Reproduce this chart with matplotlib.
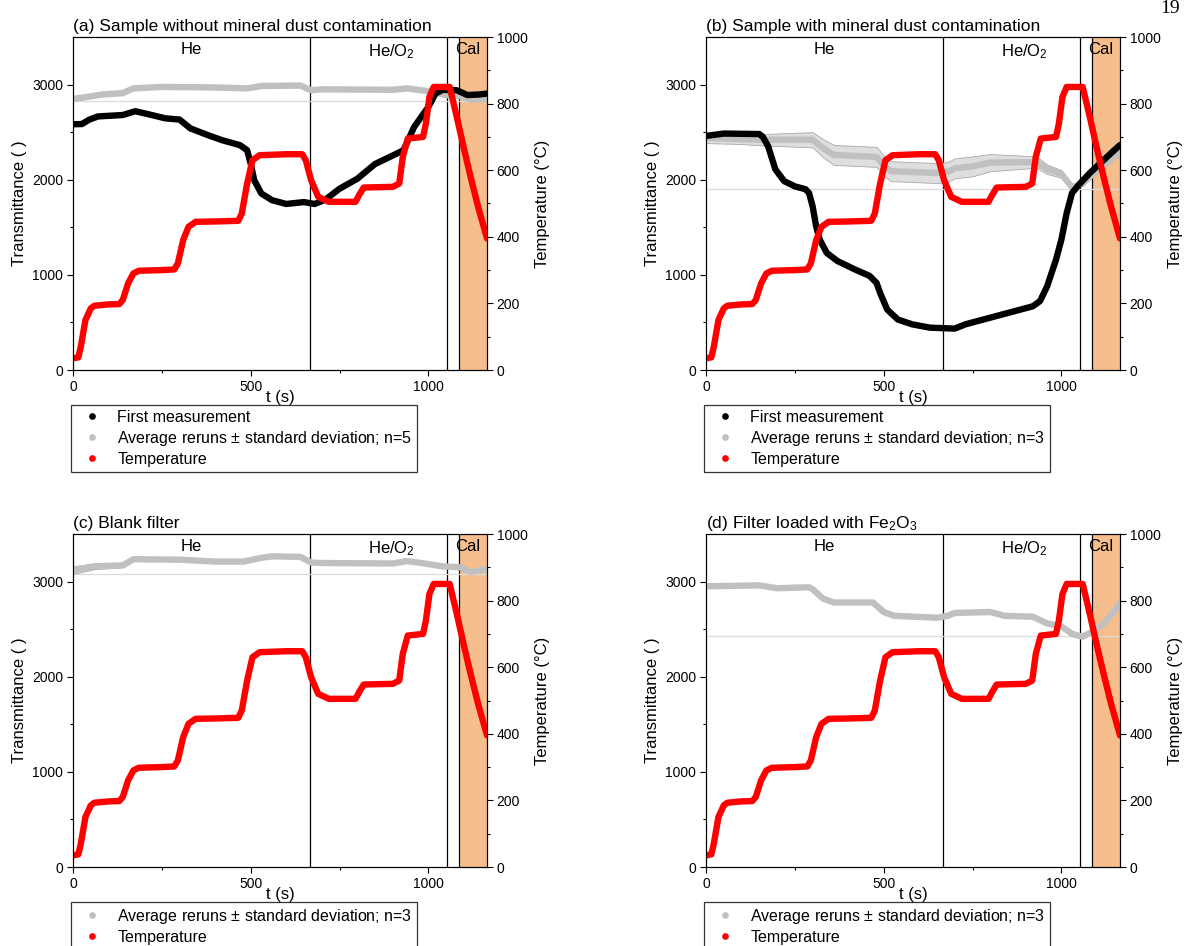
import matplotlib
matplotlib.use("Agg")
import matplotlib.pyplot as plt
from matplotlib.lines import Line2D
from matplotlib.transforms import blended_transform_factory
import numpy as np

plt.rcParams['font.family'] = ['Liberation Sans', 'DejaVu Sans']
plt.rcParams['mathtext.fontset'] = 'custom'
plt.rcParams['mathtext.rm'] = 'Liberation Sans'
plt.rcParams['mathtext.it'] = 'Liberation Sans:italic'

# temperature programme (same for all runs), t in s, T in degC
temp_t = [0, 15, 22, 35, 50, 60, 100, 130, 140, 155, 170, 185, 250, 285, 295, 310, 325, 345, 400, 465,
          475, 490, 505, 525, 600, 645, 655, 670, 690, 720, 795, 805, 818, 900, 918, 928, 942, 985, 993, 1003,
          1015, 1060, 1080, 1100, 1120, 1140, 1165]
temp_c = [35, 38, 70, 150, 185, 193, 197, 198, 210, 260, 290, 298, 300, 302, 320, 390, 430, 445, 446, 448,
          470, 560, 630, 645, 648, 648, 630, 570, 520, 505, 505, 525, 548, 550, 560, 640, 695, 700, 740, 820,
          850, 850, 760, 665, 575, 490, 395]

# (a) sample without mineral dust
a_first_t = [0, 25, 45, 70, 140, 175, 210, 260, 300, 330, 380, 420, 470, 490, 500, 510, 530, 560, 600, 650,
             680, 710, 750, 800, 850, 900, 930, 960, 1000, 1020, 1040, 1080, 1110, 1140, 1165]
a_first = [2583, 2585, 2630, 2665, 2680, 2720, 2690, 2645, 2632, 2540, 2468, 2415, 2363, 2310, 2170, 1995,
           1855, 1785, 1745, 1765, 1745, 1790, 1905, 2010, 2165, 2255, 2310, 2555, 2765, 2905, 2945, 2940,
           2890, 2895, 2905]
a_avg_t = [0, 40, 80, 140, 170, 250, 400, 490, 530, 640, 670, 700, 900, 940, 1000, 1050, 1090, 1120, 1165]
a_avg = [2850, 2870, 2895, 2910, 2960, 2975, 2970, 2960, 2985, 2990, 2940, 2950, 2945, 2960, 2930, 2890,
         2880, 2840, 2850]
a_std = [20, 20, 15, 15, 15, 15, 15, 15, 15, 15, 15, 15, 15, 15, 15, 15, 15, 15, 15]
a_ref = 2830

# (b) sample with mineral dust
b_first_t = [0, 50, 150, 160, 175, 195, 220, 250, 280, 290, 300, 310, 320, 340, 370, 420, 460, 480, 490, 510,
             540, 580, 630, 700, 730, 800, 850, 920, 940, 960, 985, 1000, 1015, 1030, 1050, 1080, 1110, 1140, 1165]
b_first = [2460, 2485, 2480, 2450, 2350, 2110, 1985, 1930, 1900, 1860, 1720, 1510, 1370, 1230, 1145, 1055,
           990, 915, 810, 635, 530, 480, 445, 435, 480, 550, 600, 670, 725, 880, 1160, 1370, 1650, 1860,
           1950, 2070, 2175, 2280, 2365]
b_avg_t = [0, 100, 160, 300, 330, 360, 480, 500, 520, 650, 680, 700, 750, 800, 930, 960, 1000, 1030, 1060,
           1100, 1165]
b_avg = [2440, 2425, 2420, 2420, 2330, 2260, 2240, 2150, 2090, 2070, 2080, 2120, 2140, 2180, 2185, 2110,
         2060, 1920, 1960, 2100, 2290]
b_std = [55, 50, 60, 80, 95, 105, 105, 105, 105, 105, 105, 105, 105, 90, 60, 50, 40, 30, 25, 25, 25]
b_ref = 1905

# (c) blank filter
c_avg_t = [0, 60, 140, 170, 300, 400, 480, 530, 560, 640, 670, 700, 900, 940, 980, 1040, 1090, 1120, 1165]
c_avg = [3120, 3160, 3170, 3235, 3230, 3210, 3210, 3250, 3265, 3260, 3200, 3195, 3190, 3215, 3195, 3160,
         3150, 3100, 3130]
c_std = [40, 30, 20, 15, 12, 12, 12, 12, 12, 12, 12, 12, 12, 12, 12, 12, 12, 12, 12]
c_ref = 3080

# (d) filter loaded with Fe2O3
d_avg_t = [0, 150, 200, 290, 300, 330, 360, 470, 500, 530, 650, 680, 700, 800, 840, 920, 960, 1000, 1030,
           1060, 1090, 1120, 1165]
d_avg = [2950, 2960, 2930, 2940, 2920, 2820, 2780, 2780, 2680, 2640, 2620, 2640, 2670, 2680, 2640, 2630,
         2560, 2530, 2450, 2420, 2480, 2560, 2770]
d_std = [10] * len(d_avg)
d_ref = 2430

phase_bounds = [668, 1053]
cal_span = (1087, 1165)
orange = '#F6BE8C'
grey = '#c0c0c0'
LW = 4.6


def draw_panel(ax, title, avg_t, avg, std, ref, n, first_t=None, first=None):
    ax.axvspan(cal_span[0], cal_span[1], color=orange, zorder=0, lw=0)
    for xb in phase_bounds + [cal_span[0]]:
        ax.axvline(xb, color='k', lw=0.9, zorder=1)
    ax.axhline(ref, color='#dcdcdc', lw=0.9, zorder=1)

    avg = np.array(avg)
    std = np.array(std)
    ax.fill_between(avg_t, avg - std, avg + std, facecolor='#dedede', edgecolor='#a8a8a8', lw=0.6, zorder=2)
    ax.plot(avg_t, avg, color=grey, lw=LW, solid_joinstyle='round', solid_capstyle='round', zorder=3)
    if first is not None:
        ax.plot(first_t, first, color='k', lw=LW, solid_joinstyle='round', solid_capstyle='round', zorder=4)

    ax2 = ax.twinx()
    ax2.plot(temp_t, temp_c, color='red', lw=LW, solid_joinstyle='round', solid_capstyle='round')

    ax.set_xlim(0, 1165)
    ax.set_ylim(0, 3500)
    ax2.set_ylim(0, 1000)
    ax.set_xticks([0, 500, 1000])
    ax.set_xticks([250, 750], minor=True)
    ax.set_yticks([0, 1000, 2000, 3000])
    ax.set_yticks([500, 1500, 2500], minor=True)
    ax2.set_yticks([0, 200, 400, 600, 800, 1000])
    ax2.set_yticks([100, 300, 500, 700, 900], minor=True)
    for a in (ax, ax2):
        a.tick_params(which='major', direction='out', length=4, width=0.8, labelsize=10, pad=3)
        a.tick_params(which='minor', direction='out', length=2.5, width=0.8)

    ax.set_xlabel('t (s)', fontsize=12, labelpad=-2.5)
    ax.set_ylabel('Transmittance ( )', fontsize=12, labelpad=4)
    ax2.set_ylabel('Temperature (°C)', fontsize=12, labelpad=5)
    ax.set_title(title, loc='left', fontsize=12.5, pad=4)

    tr = blended_transform_factory(ax.transData, ax.transAxes)
    ax.text(332, 0.985, 'He', transform=tr, ha='center', va='top', fontsize=12)
    ax.text(897, 0.985, 'He/O$_2$', transform=tr, ha='center', va='top', fontsize=12)
    ax.text(1110, 0.985, 'Cal', transform=tr, ha='center', va='top', fontsize=12)

    handles = []
    if first is not None:
        handles.append(Line2D([], [], ls='none', marker='o', ms=3.8, color='k', label='First measurement'))
    handles.append(Line2D([], [], ls='none', marker='o', ms=3.8, color=grey,
                          label='Average reruns $\\pm$ standard deviation; n=%d' % n))
    handles.append(Line2D([], [], ls='none', marker='o', ms=3.8, color='red', label='Temperature'))
    leg = ax2.legend(handles=handles, loc='upper left', bbox_to_anchor=(-0.005, -0.105), borderaxespad=0,
                     fontsize=11.5, frameon=True, fancybox=False, edgecolor='k', handletextpad=0.5,
                     labelspacing=0.25, handlelength=2.1, borderpad=0.3)
    leg.get_frame().set_linewidth(0.9)
    return ax2


fig = plt.figure(figsize=(11.84, 9.46), dpi=100)
W, H = 1184, 946
pw, ph = 414, 333

ax_a = fig.add_axes([73 / W, 1 - 370 / H, pw / W, ph / H])
ax_b = fig.add_axes([706 / W, 1 - 370 / H, pw / W, ph / H])
ax_c = fig.add_axes([73 / W, 1 - 867 / H, pw / W, ph / H])
ax_d = fig.add_axes([706 / W, 1 - 867 / H, pw / W, ph / H])

draw_panel(ax_a, '(a) Sample without mineral dust contamination', a_avg_t, a_avg, a_std, a_ref, 5,
           a_first_t, a_first)
draw_panel(ax_b, '(b) Sample with mineral dust contamination', b_avg_t, b_avg, b_std, b_ref, 3,
           b_first_t, b_first)
draw_panel(ax_c, '(c) Blank filter', c_avg_t, c_avg, c_std, c_ref, 3)
draw_panel(ax_d, '(d) Filter loaded with Fe$_2$O$_3$', d_avg_t, d_avg, d_std, d_ref, 3)

# page number in the top right corner
fig.text(1160 / W, 1.0, '19', family=['Liberation Serif', 'DejaVu Serif'], fontsize=14,
         ha='left', va='top')

fig.savefig('out.png', dpi=100)
